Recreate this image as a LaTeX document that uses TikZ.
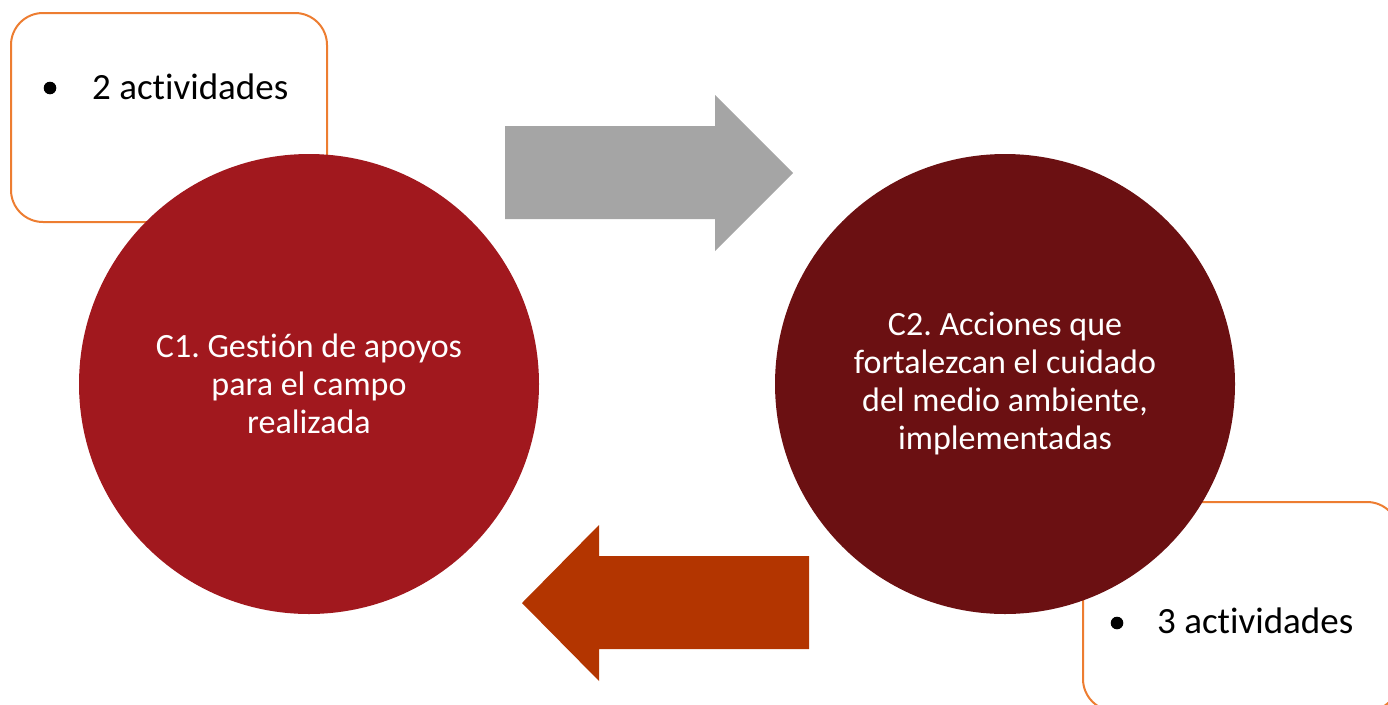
\documentclass[tikz,border=0pt]{standalone}
\usepackage{fontspec}
\setmainfont[Ligatures={NoCommon}]{Carlito}
\frenchspacing
\definecolor{boxorange}{HTML}{ED7D31}
\definecolor{cone}{HTML}{A1181E}
\definecolor{ctwo}{HTML}{6B1012}
\definecolor{arrgray}{HTML}{A5A5A5}
\definecolor{arrorange}{HTML}{B33500}
\begin{document}
\frenchspacing
\begin{tikzpicture}[x=1pt,y=-1pt,
  actbox/.style={draw=boxorange, line width=2pt, rounded corners=32pt, fill=white, minimum width=316pt, minimum height=209pt, inner sep=0pt},
  comp/.style={circle, minimum size=460pt, inner sep=0pt, text=white, align=center, font=\fontsize{34}{38}\selectfont},
  acttext/.style={anchor=base west, font=\fontsize{37}{44}\selectfont, inner sep=0pt},
  bulletdot/.style={fill=black}
]
\useasboundingbox (0,0) rectangle (1388,704);
\clip (0,0) rectangle (1388,704);
\node[actbox] (box1) at (169,117.5) {};
\node[actbox] (box2) at (1241,606.5) {};
\node[comp, fill=cone] (c1) at (309,384) {C1. Gestión de apoyos\\para el campo\\realizada};
\node[comp, fill=ctwo] (c2) at (1005,384) {C2. Acciones que\\fortalezcan el cuidado\\del medio ambiente,\\implementadas};
\fill[arrgray] (505,126) -- (715,126) -- (715,95) -- (793,173) -- (715,251) -- (715,219) -- (505,219) -- cycle;
\fill[arrorange] (809,556) -- (599,556) -- (599,525) -- (522,603) -- (599,681) -- (599,649) -- (809,649) -- cycle;
\fill[bulletdot] (50,88) circle (6.3pt);
\node[acttext] (t1) at (92,99) {2 actividades};
\fill[bulletdot] (1117,623) circle (6.3pt);
\node[acttext] (t2) at (1157,633) {3 actividades};
\end{tikzpicture}
\end{document}
